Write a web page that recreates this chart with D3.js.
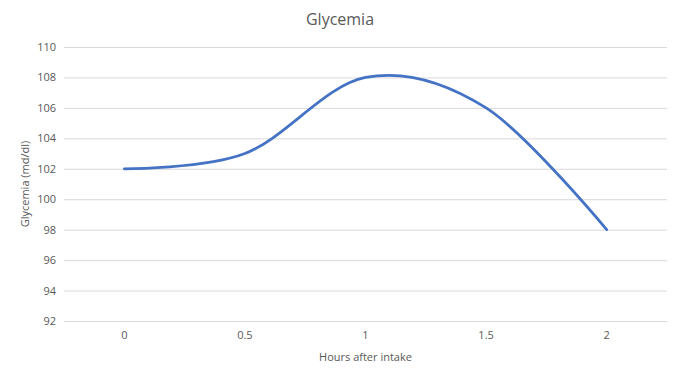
<!DOCTYPE html>
<html lang="en">
<head>
    <meta charset="UTF-8">
    <title>Glycemia</title>
    <script src="https://d3js.org/d3.v7.min.js"></script>
    <style>
        body { margin: 0; background: #fff; }
        text { font-family: "Open Sans", "Liberation Sans", sans-serif; fill: #595959; }
    </style>
</head>
<body>
    <div id="chart"></div>
    <script>
        // data
        const hours = ["0", "0.5", "1", "1.5", "2"];
        const glycemia = [102, 103, 108, 106, 98];
        const yTicks = [92, 94, 96, 98, 100, 102, 104, 106, 108, 110];

        const width = 680, height = 377;
        const margin = {top: 47, right: 13, bottom: 56, left: 64};

        const svg = d3.select("#chart").append("svg")
            .attr("width", width)
            .attr("height", height);

        const x = d3.scaleBand()
            .domain(hours)
            .range([margin.left, width - margin.right]);

        const y = d3.scaleLinear()
            .domain([92, 110])
            .range([height - margin.bottom, margin.top]);

        // gridlines
        svg.append("g")
            .selectAll("line")
            .data(yTicks)
            .join("line")
            .attr("x1", margin.left)
            .attr("x2", width - margin.right)
            .attr("y1", d => y(d) + 0.5)
            .attr("y2", d => y(d) + 0.5)
            .attr("stroke", "#d9d9d9")
            .attr("stroke-width", 1);

        // y axis labels
        const yAxis = svg.append("g")
            .attr("color", "#595959")
            .attr("transform", "translate(" + (margin.left - 8) + ",0)")
            .call(d3.axisLeft(y).tickValues(yTicks).tickSize(0).tickPadding(0));
        yAxis.select(".domain").remove();
        yAxis.selectAll("text").style("font-size", "11px").style("fill", "#595959");

        // x axis labels
        const xAxis = svg.append("g")
            .attr("color", "#595959")
            .attr("transform", "translate(0," + (height - margin.bottom) + ")")
            .call(d3.axisBottom(x).tickSize(0).tickPadding(10));
        xAxis.select(".domain").remove();
        xAxis.selectAll("text").style("font-size", "11px").style("fill", "#595959");

        // line
        const line = d3.line()
            .x((d, i) => x(hours[i]) + x.bandwidth() / 2)
            .y(d => y(d))
            .curve(d3.curveCatmullRom.alpha(0));

        svg.append("path")
            .datum(glycemia)
            .attr("fill", "none")
            .attr("stroke", "#4472c4")
            .attr("stroke-width", 2.75)
            .attr("stroke-linecap", "round")
            .attr("d", line);

        // titles
        svg.append("text")
            .attr("x", width / 2)
            .attr("y", 25)
            .attr("text-anchor", "middle")
            .style("font-size", "16px")
            .text("Glycemia");

        svg.append("text")
            .attr("x", (margin.left + width - margin.right) / 2)
            .attr("y", 361)
            .attr("text-anchor", "middle")
            .style("font-size", "11px")
            .text("Hours after intake");

        svg.append("text")
            .attr("transform", "translate(29," + ((margin.top + height - margin.bottom) / 2) + ") rotate(-90)")
            .attr("text-anchor", "middle")
            .style("font-size", "11px")
            .text("Glycemia (md/dl)");
    </script>
</body>
</html>
